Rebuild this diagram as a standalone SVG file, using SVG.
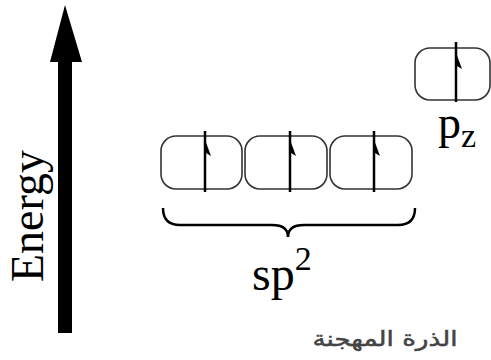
<svg xmlns="http://www.w3.org/2000/svg" width="491" height="360" viewBox="0 0 491 360">
<style>
.box{fill:none;stroke:#333;stroke-width:1.6}
.up{stroke:#000;stroke-width:2.5}
.hd{fill:#000}
.t{font-family:"Liberation Serif","Times New Roman",serif;fill:#000}
</style>
<rect width="491" height="360" fill="#fff"/>
<g id="energy-axis">
<rect x="58" y="60" width="14" height="273" fill="#000"/>
<polygon points="65,5 82,62 50,62" fill="#000"/>
<text class="t" font-size="46" text-anchor="middle" transform="translate(43,216) rotate(-90)">Energy</text>
</g>
<g id="sp2-1">
<rect class="box" x="161" y="136" width="81" height="53" rx="15"/>
<line class="up" x1="205" y1="192" x2="205" y2="131"/>
<polygon class="hd" points="204,137 211,156 206,153"/>
</g>
<g id="sp2-2">
<rect class="box" x="245" y="136" width="82" height="53" rx="15"/>
<line class="up" x1="290" y1="192" x2="290" y2="131"/>
<polygon class="hd" points="289,137 296,156 291,153"/>
</g>
<g id="sp2-3">
<rect class="box" x="330" y="136" width="82" height="53" rx="15"/>
<line class="up" x1="374" y1="192" x2="374" y2="131"/>
<polygon class="hd" points="373,137 380,156 375,153"/>
</g>
<g id="pz">
<rect class="box" x="415" y="48" width="75" height="52" rx="15"/>
<line class="up" x1="456" y1="102" x2="456" y2="42"/>
<polygon class="hd" points="455,50 462,69 457,66"/>
<text class="t" x="438" y="138" font-size="46">p<tspan font-size="34" dy="9">z</tspan></text>
</g>
<g id="connectors">
<path d="M163,208 Q163,225 180,225 L272,225 Q288,225 288,237 Q288,225 304,225 L398,225 Q415,225 415,208" fill="none" stroke="#000" stroke-width="2.5"/>
</g>
<g id="labels">
<text x="385" y="346" font-family="DejaVu Sans, sans-serif" font-size="21" fill="#444" stroke="#444" stroke-width="0.5" text-anchor="middle" direction="rtl" textLength="145" lengthAdjust="spacingAndGlyphs">الذرة المهجنة</text>
</g>
<g id="sp2-label">
<text class="t" x="252" y="290" font-size="48">sp<tspan font-size="34" dy="-20">2</tspan></text>
</g>
</svg>
